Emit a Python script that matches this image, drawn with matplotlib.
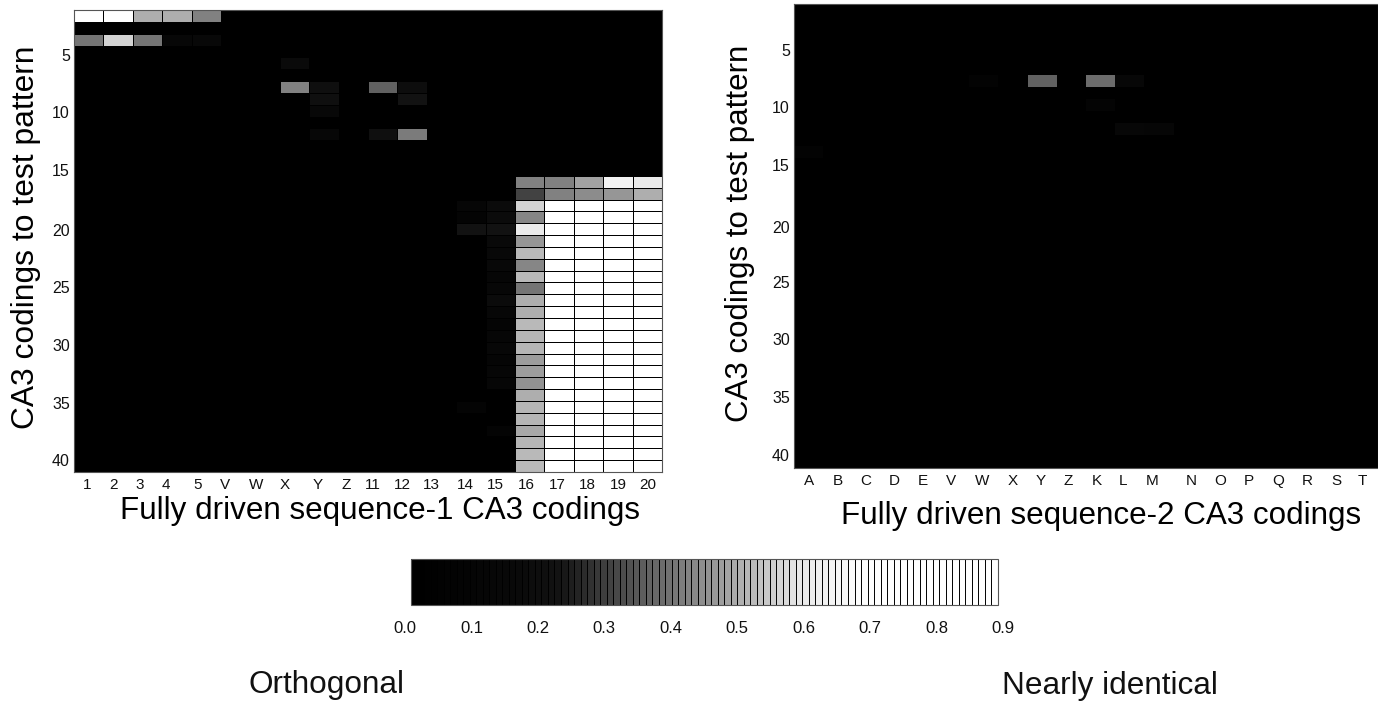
import numpy as np
import matplotlib
matplotlib.use("Agg")
import matplotlib.pyplot as plt
from matplotlib.colors import LinearSegmentedColormap, BoundaryNorm
from matplotlib.cm import ScalarMappable

W, H = 1378, 702
plt.rcParams['font.family'] = ['Liberation Sans', 'DejaVu Sans']

N_ROWS, N_COLS = 39, 20

# --- sequence-1 panel: sparse similarity values (row, column, value), 1-based
seq1_rows = [1, 1, 1, 1, 1, 3, 3, 3, 3, 3, 5, 7, 7, 7, 7, 8, 8, 9, 11, 11, 11]
seq1_cols = [1, 2, 3, 4, 5, 1, 2, 3, 4, 5, 8, 8, 9, 11, 12, 9, 12, 9, 9, 11, 12]
seq1_vals = [.88, .70, .50, .50, .42, .40, .56, .40, .12, .14, .16, .42, .20, .36, .18, .20, .22, .14, .12, .20, .41]

# column 16 down rows 15..39
col16_rows = list(range(15, 40))
col16_vals = [.42, .30, .56, .43, .60, .46, .52, .43, .52, .40, .50, .50, .52, .51, .51,
              .47, .47, .45, .50, .51, .51, .49, .51, .52, .52]

# columns 17..20 on the two partly-driven rows; every later row is near identical
col17_20_row15 = [.42, .48, .64, .60]
col17_20_row16 = [.42, .44, .46, .50]
near_identical = 0.88

# faint dots left of column 16
faint_rows = [17, 17, 18, 18, 19, 19, 20, 21, 22, 23, 24, 25, 26, 27, 28, 29, 30, 31, 32, 34, 36]
faint_cols = [14, 15, 14, 15, 14, 15, 15, 15, 15, 15, 15, 15, 15, 15, 15, 15, 15, 15, 15, 14, 15]
faint_vals = [.10, .17, .08, .17, .22, .22, .15, .14, .14, .10, .13, .17, .12, .09, .11, .13, .09, .10, .10, .07, .08]

# --- sequence-2 panel
seq2_rows = [7, 7, 7, 7, 9, 11, 11, 13]
seq2_cols = [7, 9, 11, 12, 11, 12, 13, 1]
seq2_vals = [.06, .36, .38, .12, .07, .13, .10, .05]

seq1_xlabels = ['1', '2', '3', '4', '5', 'V', 'W', 'X', 'Y', 'Z', '11', '12', '13',
                '14', '15', '16', '17', '18', '19', '20']
seq1_xpos = [.94, 1.86, 2.74, 3.63, 4.72, 5.64, 6.69, 7.68, 8.80, 9.75, 10.67, 11.66,
             12.64, 13.80, 14.82, 15.87, 16.93, 17.95, 19.00, 20.02]
seq2_xlabels = list('ABCDEVWXYZKLMNOPQRST')
seq2_xpos = [1.03, 1.99, 2.96, 3.92, 4.92, 5.88, 6.94, 8.00, 8.95, 9.90, 10.86, 11.78,
             12.77, 14.10, 15.10, 16.09, 17.09, 18.08, 19.06, 19.97]

ylabels = ['5', '10', '15', '20', '25', '30', '35', '40']
seq1_ypos = [4.3, 9.1, 14.0, 19.07, 23.9, 28.8, 33.7, 38.5]
seq2_ypos = [4.4, 9.2, 14.1, 19.3, 23.9, 28.7, 33.5, 38.4]

scale_labels = ['0.0', '0.1', '0.2', '0.3', '0.4', '0.5', '0.6', '0.7', '0.8', '0.9']
scale_ticks = [0.0, 0.1, 0.2, 0.3, 0.4, 0.5, 0.6, 0.7, 0.8, 0.9]
scale_levels = np.arange(0.0, 0.905, 0.01)

# grey level that the printed halftone averages to at each similarity value
VMAX = 0.9
halftone_vals = [0.0, 0.05, 0.15, 0.22, 0.30, 0.40, 0.50, 0.60, 0.70, 0.90]
halftone_grey = [0.0, 0.01, 0.035, 0.07, 0.26, 0.46, 0.68, 0.92, 1.0, 1.0]
cmap = LinearSegmentedColormap.from_list(
    'halftone', [(v / VMAX, (g, g, g)) for v, g in zip(halftone_vals, halftone_grey)], N=256)


def px_axes(fig, x0, y0, x1, y1):
    return fig.add_axes([x0 / W, 1 - y1 / H, (x1 - x0) / W, (y1 - y0) / H])


def fill(matrix, rows, cols, vals):
    for r, c, v in zip(rows, cols, vals):
        matrix[r - 1, c - 1] = v


def panel(ax, matrix, xpos, xlabs, ypos, xlabel, xlab_xy, ylab_xy, ylab_size, grid):
    edges_x = np.arange(0.5, N_COLS + 1)
    edges_y = np.arange(0.5, N_ROWS + 1)
    ax.set_facecolor('black')
    ax.pcolormesh(edges_x, edges_y, matrix, cmap=cmap, vmin=0, vmax=VMAX,
                  edgecolors='black' if grid else 'none', linewidth=0.55 if grid else 0)
    ax.set_xlim(0.5, N_COLS + 0.5)
    ax.set_ylim(N_ROWS + 0.5, 0.5)
    ax.set_xticks(xpos, xlabs, fontsize=11, color='#111111')
    ax.set_yticks(ypos, ylabels, fontsize=11.5, color='#111111')
    ax.tick_params(length=0, pad=4)
    ax.tick_params(axis='y', pad=3)
    for s in ax.spines.values():
        s.set_color('#555555')
        s.set_linewidth(0.8)
    ax.set_xlabel(xlabel, fontsize=22.6)
    ax.set_ylabel('CA3 codings to test pattern', fontsize=ylab_size)
    bb = ax.get_position()
    ax.xaxis.set_label_coords((xlab_xy[0] / W - bb.x0) / bb.width,
                              (1 - xlab_xy[1] / H - bb.y0) / bb.height)
    ax.xaxis.label.set_va('center')
    ax.yaxis.set_label_coords((ylab_xy[0] / W - bb.x0) / bb.width,
                              (1 - ylab_xy[1] / H - bb.y0) / bb.height)
    ax.yaxis.label.set_va('center')


fig = plt.figure(figsize=(W / 100, H / 100), dpi=100, facecolor='white')

m1 = np.zeros((N_ROWS, N_COLS))
fill(m1, seq1_rows, seq1_cols, seq1_vals)
fill(m1, col16_rows, [16] * len(col16_rows), col16_vals)
fill(m1, faint_rows, faint_cols, faint_vals)
m1[14, 16:20] = col17_20_row15
m1[15, 16:20] = col17_20_row16
m1[16:, 16:20] = near_identical

m2 = np.zeros((N_ROWS, N_COLS))
fill(m2, seq2_rows, seq2_cols, seq2_vals)

ax1 = px_axes(fig, 74, 10, 662, 472)
panel(ax1, m1, seq1_xpos, seq1_xlabels, seq1_ypos,
      'Fully driven sequence-1 CA3 codings', (380, 511), (26, 237), 22.9, True)
ax2 = px_axes(fig, 794, 3.5, 1378, 468)
panel(ax2, m2, seq2_xpos, seq2_xlabels, seq2_ypos,
      'Fully driven sequence-2 CA3 codings', (1101, 516), (740, 233), 22.5, False)

# colour scale with a black rule between levels
cax = px_axes(fig, 411, 559, 998, 605)
norm = BoundaryNorm(scale_levels, 256)
sm = ScalarMappable(norm=norm, cmap=cmap)
cb = fig.colorbar(sm, cax=cax, orientation='horizontal', drawedges=True, spacing='proportional')
cb.dividers.set_color('black')
cb.dividers.set_linewidth(0.7)
cb.outline.set_edgecolor('#555555')
cb.outline.set_linewidth(0.8)
cb.minorticks_off()
cb.set_ticks([])
cax.tick_params(which='both', length=0)

# tick labels of the scale sit lower and spread slightly wider than the bar
lax = px_axes(fig, 405, 620, 1003, 621)
lax.set_xlim(0.0, 0.9)
lax.set_yticks([])
for s in lax.spines.values():
    s.set_visible(False)
lax.patch.set_alpha(0)
lax.set_xticks(scale_ticks, scale_labels, fontsize=12, color='#111111')
lax.tick_params(length=0, pad=0)

fig.text(327 / W, 1 - 685 / H, 'Orthogonal', fontsize=22.7, ha='center', va='center', color='#111111')
fig.text(1110 / W, 1 - 686 / H, 'Nearly identical', fontsize=22.7, ha='center', va='center', color='#111111')

fig.savefig('out.png', dpi=100, facecolor='white')
